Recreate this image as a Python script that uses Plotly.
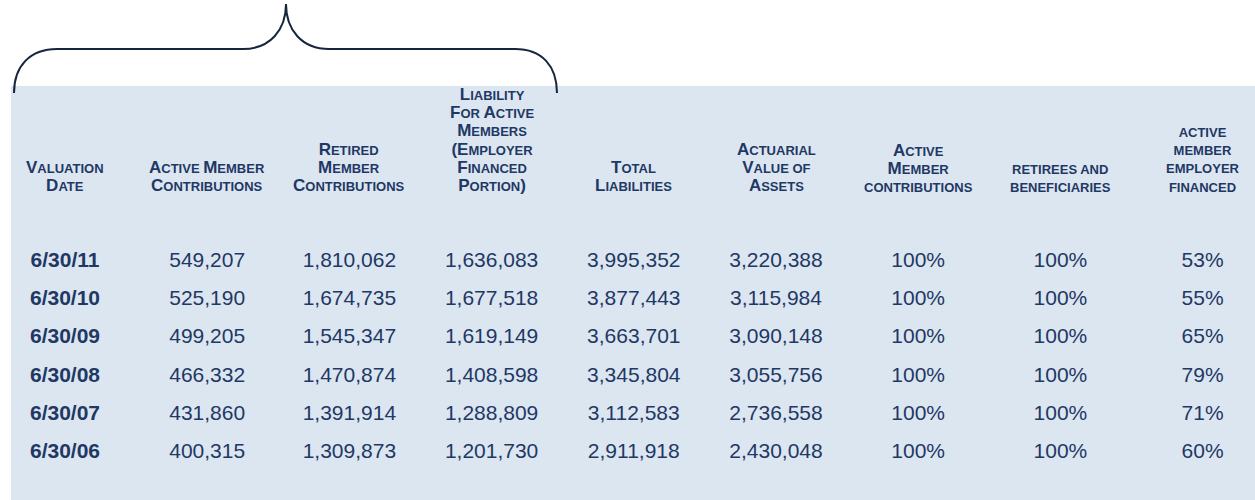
import plotly.graph_objects as go

W, H = 1255, 500

# table data
dates = ["6/30/11", "6/30/10", "6/30/09", "6/30/08", "6/30/07", "6/30/06"]
active_member_contrib = [549207, 525190, 499205, 466332, 431860, 400315]
retired_member_contrib = [1810062, 1674735, 1545347, 1470874, 1391914, 1309873]
active_employer_liab = [1636083, 1677518, 1619149, 1408598, 1288809, 1201730]
total_liabilities = [3995352, 3877443, 3663701, 3345804, 3112583, 2911918]
actuarial_assets = [3220388, 3115984, 3090148, 3055756, 2736558, 2430048]
pct_active_contrib = [100, 100, 100, 100, 100, 100]
pct_retirees = [100, 100, 100, 100, 100, 100]
pct_employer_financed = [53, 55, 65, 79, 71, 60]

# header lines; lowercase letters are shown as small caps
headers = [
    ["Valuation", "Date"],
    ["Active Member", "Contributions"],
    ["Retired", "Member", "Contributions"],
    ["Liability", "For Active", "Members", "(Employer", "Financed", "Portion)"],
    ["Total", "Liabilities"],
    ["Actuarial", "Value of", "Assets"],
    ["Active", "Member", "contributions"],
    ["retirees and", "beneficiaries"],
    ["active", "member", "employer", "financed"],
]

NAVY = "#1F3864"
BG = "#DCE6F1"
FONT = "Liberation Sans, Arial, sans-serif"


def small_caps(line, big=17, small=13):
    """Turn mixed case text into small caps with html spans"""
    parts, buf, cur = [], "", None
    for ch in line:
        kind = cur if ch == " " and cur else ("s" if ch.islower() else "b")
        if kind != cur and buf:
            parts.append((cur, buf))
            buf = ""
        cur = kind
        buf += ch.upper()
    if buf:
        parts.append((cur, buf))
    return "".join(
        f'<span style="font-size:{big if k == "b" else small}px">{t}</span>'
        for k, t in parts
    )


def pt(x, y):
    # pixel position -> paper coordinates
    return f"{x / W:.5f},{1 - y / H:.5f}"


columns = [
    [f"<b>{d}</b>" for d in dates],
    [f"{v:,}" for v in active_member_contrib],
    [f"{v:,}" for v in retired_member_contrib],
    [f"{v:,}" for v in active_employer_liab],
    [f"{v:,}" for v in total_liabilities],
    [f"{v:,}" for v in actuarial_assets],
    [f"{v}%" for v in pct_active_contrib],
    [f"{v}%" for v in pct_retirees],
    [f"{v}%" for v in pct_employer_financed],
]

fig = go.Figure()

for i, col in enumerate(columns):
    fig.add_trace(
        go.Scatter(
            x=[i] * len(col),
            y=list(range(len(col))),
            mode="text",
            text=col,
            textposition="middle center",
            textfont=dict(family=FONT, size=21, color=NAVY),
            hoverinfo="skip",
            showlegend=False,
        )
    )

for i, lines in enumerate(headers):
    fig.add_annotation(
        x=i,
        xref="x",
        y=1 - 197 / H,
        yref="paper",
        yanchor="bottom",
        xanchor="center",
        text="<br>".join(small_caps(l) for l in lines),
        showarrow=False,
        align="center",
        font=dict(family=FONT, size=14, color=NAVY, weight="bold"),
    )

# light blue table background
fig.add_shape(
    type="rect",
    xref="paper",
    yref="paper",
    x0=11 / W,
    x1=1,
    y0=0,
    y1=1 - 86 / H,
    fillcolor=BG,
    line_width=0,
    layer="below",
)

# curly brace over the first columns
brace = (
    f"M {pt(14, 93)} C {pt(14, 66)} {pt(30, 49)} {pt(57, 49)} "
    f"L {pt(243, 49)} C {pt(270, 49)} {pt(286, 30)} {pt(286, 4)} "
    f"C {pt(286, 30)} {pt(302, 49)} {pt(329, 49)} "
    f"L {pt(515, 49)} C {pt(542, 49)} {pt(557, 66)} {pt(557, 93)}"
)
fig.add_shape(
    type="path",
    xref="paper",
    yref="paper",
    path=brace,
    line=dict(color="#17263F", width=2),
)

fig.update_layout(
    width=W,
    height=H,
    margin=dict(l=0, r=0, t=0, b=0),
    paper_bgcolor="white",
    plot_bgcolor="rgba(0,0,0,0)",
    xaxis=dict(range=[-65 / 142.2, (W - 65) / 142.2], visible=False),
    yaxis=dict(range=[(H - 262) / 38.1, -262 / 38.1], visible=False),
    hovermode=False,
)

# drop the default page margin so the figure sits at the window corner
fig.write_html(
    "out.html",
    config={"displayModeBar": False},
    post_script="document.body.style.margin='0';",
)
